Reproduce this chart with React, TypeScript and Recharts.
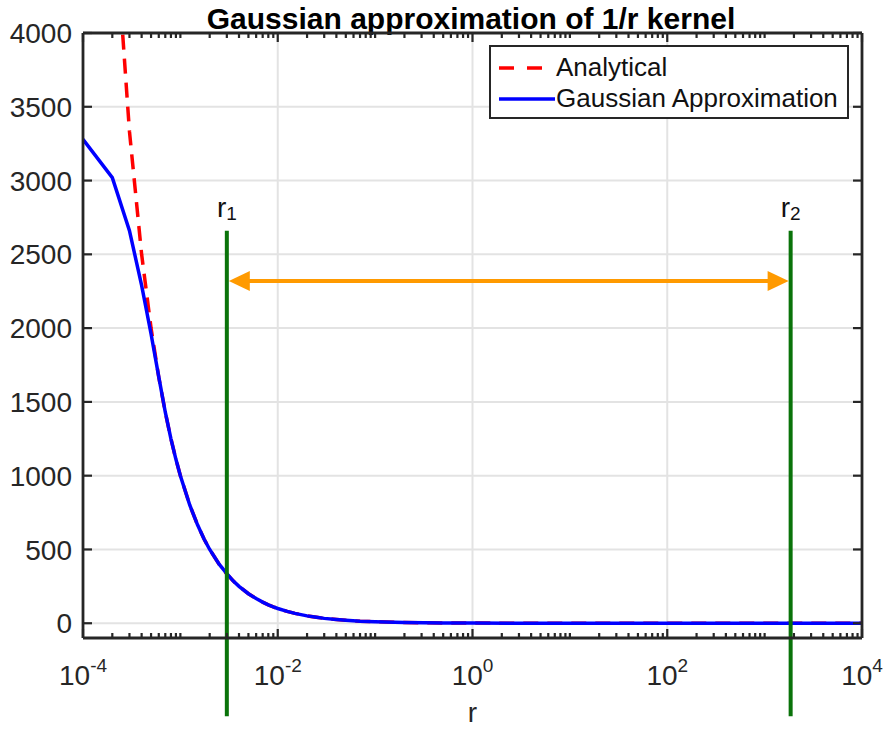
import React from 'react';
import {
  LineChart, Line, XAxis, YAxis, CartesianGrid, ReferenceLine, Legend, Customized, Label,
} from 'recharts';

// ---------- data ----------
const rValues = [
  1e-4, 2e-4, 3e-4, 4e-4, 5e-4, 6e-4, 7e-4, 8e-4, 9e-4,
  1e-3, 1.25e-3, 1.5e-3, 1.75e-3, 2e-3, 2.5e-3, 3e-3, 3.5e-3, 4e-3, 5e-3, 6e-3, 7e-3, 8e-3, 9e-3,
  1e-2, 1.25e-2, 1.5e-2, 2e-2, 2.5e-2, 3e-2, 4e-2, 5e-2, 7e-2,
  0.1, 0.2, 0.5, 1, 10, 100, 1000, 1e4,
];
const gaussianValues = [
  3280, 3020, 2660, 2290, 1960, 1670, 1430, 1250, 1111,
  1000, 800, 667, 571, 500, 400, 336, 286, 250, 200, 167, 143, 125, 111,
  100, 80, 67, 50, 40, 33, 25, 20, 14,
  10, 5, 2, 1, 0.1, 0.01, 0.001, 0.0001,
];
const analyticalValues = [
  10000, 5000, 3333, 2500, 2000, 1667, 1429, 1250, 1111,
  1000, 800, 667, 571, 500, 400, 333, 286, 250, 200, 167, 143, 125, 111,
  100, 80, 67, 50, 40, 33, 25, 20, 14,
  10, 5, 2, 1, 0.1, 0.01, 0.001, 0.0001,
];

const xMajorTicks = [1e-4, 1e-2, 1, 1e2, 1e4];
const xMajorExponents = ['-4', '-2', '0', '2', '4'];
const xMinorTicks = [
  2e-4, 3e-4, 4e-4, 5e-4, 6e-4, 7e-4, 8e-4, 9e-4,
  1e-3, 2e-3, 3e-3, 4e-3, 5e-3, 6e-3, 7e-3, 8e-3, 9e-3,
  2e-2, 3e-2, 4e-2, 5e-2, 6e-2, 7e-2, 8e-2, 9e-2,
  0.1, 0.2, 0.3, 0.4, 0.5, 0.6, 0.7, 0.8, 0.9,
  2, 3, 4, 5, 6, 7, 8, 9,
  10, 20, 30, 40, 50, 60, 70, 80, 90,
  200, 300, 400, 500, 600, 700, 800, 900,
  1000, 2000, 3000, 4000, 5000, 6000, 7000, 8000, 9000,
];
const xAllTicks = [...xMajorTicks, ...xMinorTicks];
const yTicks = [0, 500, 1000, 1500, 2000, 2500, 3000, 3500, 4000];
const xDomain = [1e-4, 1e4];
const yDomain = [-100, 4000];

const r1 = 0.003;
const r2 = 1850;
const rLineBottom = -630;
const rLineTop = 2660;
const arrowLevel = 2320;

const seriesNames = ['Analytical', 'Gaussian Approximation'];

const data = rValues.map((r, i) => ({
  r,
  analytical: analyticalValues[i],
  gauss: gaussianValues[i],
}));

// ---------- styles ----------
const FONT = '"Liberation Sans", Arial, Helvetica, sans-serif';
const AXIS = '#262626';
const GREEN = '#0a730a';
const ORANGE = '#ff9a00';

const isMajor = (v: number) => xMajorTicks.includes(v);

const BottomTick = (props: any) => {
  const { x, y, payload } = props;
  const major = isMajor(payload.value);
  const i = xMajorTicks.indexOf(payload.value);
  return (
    <g>
      <line x1={x} x2={x} y1={y} y2={y - (major ? 9 : 5)} stroke={AXIS} strokeWidth={2.2} />
      {major && (
        <text x={x} y={y + 47} textAnchor="middle" fontSize={28} fill={AXIS} fontFamily={FONT}>
          10<tspan dy={-13} fontSize={19}>{xMajorExponents[i]}</tspan>
        </text>
      )}
    </g>
  );
};

const TopTick = (props: any) => {
  const { x, y, payload } = props;
  const len = isMajor(payload.value) ? 9 : 5;
  return <line x1={x} x2={x} y1={y} y2={y + len} stroke={AXIS} strokeWidth={2.2} />;
};

const LeftTick = (props: any) => {
  const { x, y, payload } = props;
  return (
    <g>
      <line x1={x} x2={x + 9} y1={y} y2={y} stroke={AXIS} strokeWidth={2.2} />
      <text x={x - 11} y={y} dy="0.36em" textAnchor="end" fontSize={28} fill={AXIS} fontFamily={FONT}>
        {payload.value}
      </text>
    </g>
  );
};

const RightTick = (props: any) => {
  const { x, y } = props;
  return <line x1={x} x2={x - 9} y1={y} y2={y} stroke={AXIS} strokeWidth={2.2} />;
};

const makeRLine = (sub: string) => (p: any) => {
  const top = Math.min(p.y1, p.y2);
  const bottom = Math.max(p.y1, p.y2);
  return (
    <g>
      <line x1={p.x1} x2={p.x2} y1={top} y2={bottom} stroke={GREEN} strokeWidth={4} />
      <text x={p.x1} y={top - 14} textAnchor="middle" fontSize={28} fill="#111" fontFamily={FONT}>
        r<tspan dy={3} fontSize={19}>{sub}</tspan>
      </text>
    </g>
  );
};

const ArrowShape = (p: any) => {
  const left = Math.min(p.x1, p.x2) + 2;
  const right = Math.max(p.x1, p.x2) - 2;
  const y = p.y1;
  const hl = 21;
  const hw = 10;
  return (
    <g>
      <line x1={left + hl - 2} x2={right - hl + 2} y1={y} y2={y} stroke={ORANGE} strokeWidth={4} />
      <polygon points={`${left},${y} ${left + hl},${y - hw} ${left + hl},${y + hw}`} fill={ORANGE} />
      <polygon points={`${right},${y} ${right - hl},${y - hw} ${right - hl},${y + hw}`} fill={ORANGE} />
    </g>
  );
};

const LegendBox = () => (
  <div
    style={{
      width: 360, height: 74, boxSizing: 'border-box', border: `2.5px solid ${AXIS}`,
      background: '#fff', fontFamily: FONT, fontSize: 26, color: '#111', position: 'relative',
    }}
  >
    <svg width={60} height={74} style={{ position: 'absolute', left: 6, top: 0 }}>
      <line x1={2} x2={58} y1={21} y2={21} stroke="#ff0000" strokeWidth={3.5} strokeDasharray="15 13" />
      <line x1={2} x2={58} y1={52} y2={52} stroke="#0000ff" strokeWidth={3.5} />
    </svg>
    <div style={{ position: 'absolute', left: 65, top: 5, lineHeight: '30px', whiteSpace: 'nowrap' }}>{seriesNames[0]}</div>
    <div style={{ position: 'absolute', left: 65, top: 36, lineHeight: '30px', whiteSpace: 'nowrap' }}>{seriesNames[1]}</div>
  </div>
);

const Title = () => (
  <text x={471} y={28.5} textAnchor="middle" fontSize={30} fontWeight="bold" fill="#000" fontFamily={FONT}>
    Gaussian approximation of 1/r kernel
  </text>
);

const RAxisLabel = (props: any) => {
  const vb = props.viewBox;
  return (
    <text x={vb.x + vb.width / 2} y={vb.y + 84} textAnchor="middle" fontSize={28} fill={AXIS} fontFamily={FONT}>
      r
    </text>
  );
};

export default function App() {
  return (
    <div style={{ position: 'absolute', left: 0, top: 0, width: 886, height: 731, background: '#fff', fontFamily: FONT }}>
      <LineChart width={886} height={731} data={data} margin={{ top: 32, right: 23, bottom: 92, left: 82 }}>
        <CartesianGrid stroke="#e3e3e3" strokeWidth={2} xAxisId="grid" />
        <XAxis
          xAxisId="grid" dataKey="r" type="number" scale="log" domain={xDomain} allowDataOverflow
          ticks={xMajorTicks} interval={0} hide
        />
        <XAxis
          dataKey="r" type="number" scale="log" domain={xDomain} allowDataOverflow
          ticks={xAllTicks} interval={0} height={1} tickSize={0} tickMargin={0}
          tick={<BottomTick />} tickLine={false} axisLine={{ stroke: AXIS, strokeWidth: 2.8 }}
        >
          <Label content={<RAxisLabel />} />
        </XAxis>
        <XAxis
          xAxisId="top" orientation="top" dataKey="r" type="number" scale="log" domain={xDomain} allowDataOverflow
          ticks={xAllTicks} interval={0} height={1} tickSize={0} tickMargin={0}
          tick={<TopTick />} tickLine={false} axisLine={{ stroke: AXIS, strokeWidth: 2.8 }}
        />
        <YAxis
          type="number" domain={yDomain} allowDataOverflow ticks={yTicks} interval={0}
          width={1} tickSize={0} tickMargin={0} tick={<LeftTick />} tickLine={false}
          axisLine={{ stroke: AXIS, strokeWidth: 2.8 }}
        />
        <YAxis
          yAxisId="right" orientation="right" type="number" domain={yDomain} allowDataOverflow ticks={yTicks} interval={0}
          width={1} tickSize={0} tickMargin={0} tick={<RightTick />} tickLine={false}
          axisLine={{ stroke: AXIS, strokeWidth: 2.8 }}
        />
        <Line
          dataKey="analytical" name={seriesNames[0]} type="linear" stroke="#ff0000" strokeWidth={3.5}
          strokeDasharray="15 9" dot={false} activeDot={false} isAnimationActive={false}
        />
        <Line
          dataKey="gauss" name={seriesNames[1]} type="linear" stroke="#0000ff" strokeWidth={3.5}
          dot={false} activeDot={false} isAnimationActive={false}
        />
        <ReferenceLine
          segment={[{ x: r1, y: rLineBottom }, { x: r1, y: rLineTop }]} ifOverflow="visible"
          shape={makeRLine('1')}
        />
        <ReferenceLine
          segment={[{ x: r2, y: rLineBottom }, { x: r2, y: rLineTop }]} ifOverflow="visible"
          shape={makeRLine('2')}
        />
        <ReferenceLine
          segment={[{ x: r1, y: arrowLevel }, { x: r2, y: arrowLevel }]} ifOverflow="visible"
          shape={ArrowShape}
        />
        <Legend
          layout="vertical" align="center" verticalAlign="middle" content={<LegendBox />}
          wrapperStyle={{ position: 'absolute', left: 489, top: 45, width: 360, height: 74 }}
        />
        <Customized component={<Title />} />
      </LineChart>
    </div>
  );
}
